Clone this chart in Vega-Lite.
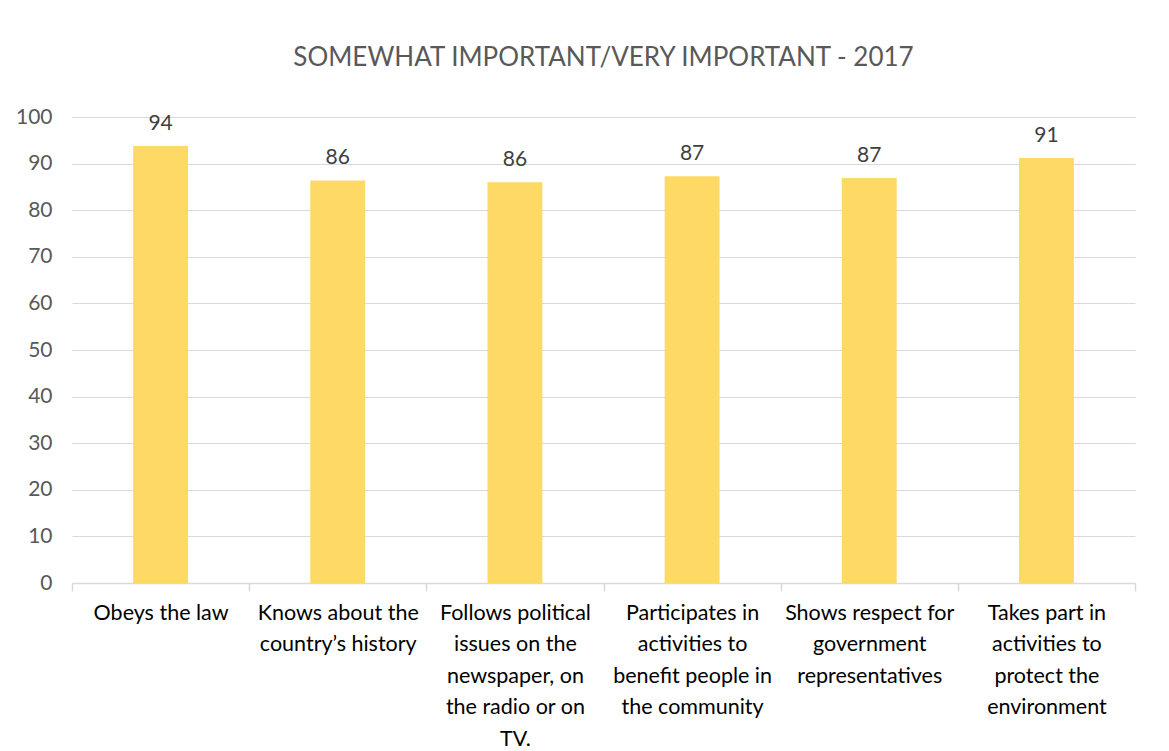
{
  "$schema": "https://vega.github.io/schema/vega-lite/v6.json",
  "autosize": {"type": "none"},
  "width": 1063,
  "height": 466,
  "padding": {"left": 72, "top": 117, "right": 34, "bottom": 168},
  "background": "white",
  "title": {
    "text": "SOMEWHAT IMPORTANT/VERY IMPORTANT - 2017",
    "anchor": "middle",
    "frame": "group",
    "font": "Lato",
    "fontSize": 26,
    "fontWeight": "normal",
    "color": "#595959",
    "offset": 35
  },
  "data": {
    "values": [
      {"item": "Obeys the law", "pct": 93.8, "label": "94"},
      {"item": "Knows about the|country’s history", "pct": 86.4, "label": "86"},
      {"item": "Follows political|issues on the|newspaper, on|the radio or on|TV.", "pct": 86.0, "label": "86"},
      {"item": "Participates in|activities to|benefit people in|the community", "pct": 87.3, "label": "87"},
      {"item": "Shows respect for|government|representatives", "pct": 86.9, "label": "87"},
      {"item": "Takes part in|activities to|protect the|environment", "pct": 91.2, "label": "91"}
    ]
  },
  "encoding": {
    "x": {
      "field": "item",
      "type": "nominal",
      "sort": null,
      "scale": {"paddingInner": 0, "paddingOuter": 0},
      "axis": {
        "title": null,
        "labelAngle": 0,
        "labelExpr": "split(datum.label, '|')",
        "labelFont": "Lato",
        "labelFontSize": 21.5,
        "labelColor": "#000000",
        "labelLineHeight": 31.5,
        "labelPadding": 11,
        "labelBaseline": "top",
        "labelLimit": 220,
        "domainColor": "#D9D9D9",
        "domainWidth": 1.5,
        "tickColor": "#D9D9D9",
        "tickSize": 8,
        "tickWidth": 1.5,
        "tickBand": "extent",
        "grid": false
      }
    },
    "y": {
      "field": "pct",
      "type": "quantitative",
      "scale": {"domain": [0, 100]},
      "axis": {
        "title": null,
        "values": [0, 10, 20, 30, 40, 50, 60, 70, 80, 90, 100],
        "labelFont": "Lato",
        "labelFontSize": 21,
        "labelColor": "#595959",
        "labelPadding": 20,
        "domain": false,
        "ticks": false,
        "gridColor": "#D9D9D9",
        "gridWidth": 1.2
      }
    }
  },
  "layer": [
    {
      "mark": {"type": "bar", "color": "#FFD966", "width": {"band": 0.31}}
    },
    {
      "mark": {
        "type": "text",
        "baseline": "alphabetic",
        "dy": -16,
        "font": "Lato",
        "fontSize": 21,
        "color": "#404040"
      },
      "encoding": {"text": {"field": "label"}}
    }
  ],
  "config": {"view": {"stroke": null}}
}
